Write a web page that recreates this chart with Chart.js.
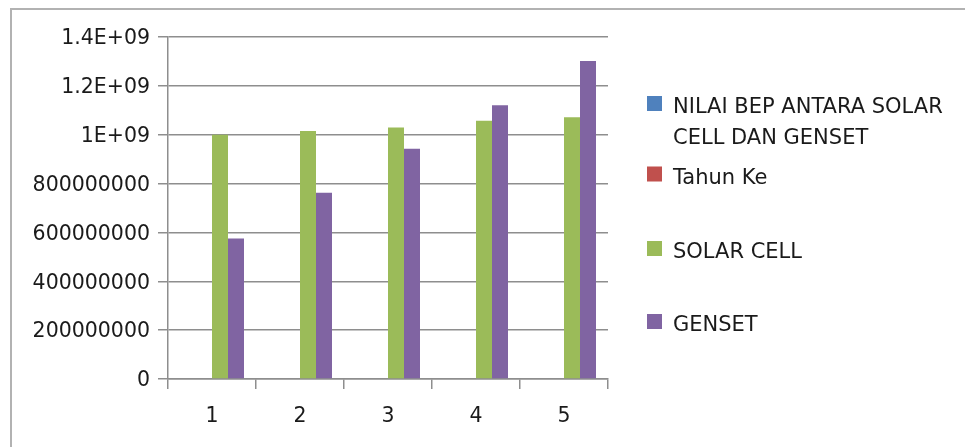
<!DOCTYPE html>
<html lang="id">
<head>
    <meta charset="UTF-8">
    <title>BEP Solar Cell dan Genset</title>
    <style>
        html, body { margin: 0; padding: 0; background: #ffffff; overflow: hidden; }
        .chart-container { position: absolute; left: 0; top: 0; width: 965px; height: 447px; }
        .frame { position: absolute; left: 10px; top: 8px; width: 1200px; height: 600px;
                 border: 2px solid #b2b2b2; pointer-events: none; }
    </style>
</head>
<body>
    <div class="frame"></div>
    <div class="chart-container">
        <canvas id="bepChart"></canvas>
    </div>
    <script src="https://cdn.jsdelivr.net/npm/chart.js"></script>

    <script>
        // data
        const tahun = ['1', '2', '3', '4', '5'];
        const seriesNames = ['NILAI BEP ANTARA SOLAR CELL DAN GENSET', 'Tahun Ke', 'SOLAR CELL', 'GENSET'];
        const nilaiBep = [null, null, null, null, null];
        const tahunKe = [null, null, null, null, null];
        const solarCell = [1000000000, 1015000000, 1030000000, 1057000000, 1072000000];
        const genset = [575000000, 762000000, 943000000, 1121000000, 1302000000];
        const yTicks = [0, 200000000, 400000000, 600000000, 800000000, 1000000000, 1200000000, 1400000000];

        const colors = ['#4F81BD', '#C0504D', '#9BBB59', '#8064A2'];
        const seriesData = [nilaiBep, tahunKe, solarCell, genset];

        // format angka seperti Excel (General)
        function excelFormat(v) {
            v = Math.round(v);
            if (Math.abs(v) >= 1e9) {
                const parts = v.toExponential().split('e');
                const mant = parseFloat(parseFloat(parts[0]).toFixed(2)).toString();
                const exp = parseInt(parts[1], 10);
                return mant + 'E' + (exp >= 0 ? '+' : '-') + String(Math.abs(exp)).padStart(2, '0');
            }
            return String(v);
        }

        // legenda di sebelah kanan, digambar sendiri
        const sideLegend = {
            id: 'sideLegend',
            afterDraw(chart) {
                const ctx = chart.ctx;
                const font = '21px "DejaVu Sans"';
                const textX = 673;
                const boxX = 647;
                const boxSize = 15;
                const maxWidth = 285;
                const lineStep = 31.2;
                const firstLines = [105.5, 176, 250.5, 323.5];
                ctx.save();
                ctx.font = font;
                ctx.fillStyle = '#1a1a1a';
                ctx.textAlign = 'left';
                ctx.textBaseline = 'alphabetic';
                chart.data.datasets.forEach((ds, i) => {
                    // bungkus teks panjang
                    const words = ds.label.split(' ');
                    const lines = [];
                    let cur = '';
                    words.forEach(w => {
                        const test = cur ? cur + ' ' + w : w;
                        if (ctx.measureText(test).width > maxWidth && cur) {
                            lines.push(cur);
                            cur = w;
                        } else {
                            cur = test;
                        }
                    });
                    lines.push(cur);
                    const y0 = firstLines[i];
                    ctx.fillStyle = ds.backgroundColor;
                    ctx.fillRect(boxX, y0 - 2 - boxSize / 2, boxSize, boxSize);
                    ctx.fillStyle = '#1a1a1a';
                    lines.forEach((ln, j) => {
                        ctx.fillText(ln, textX, y0 + j * lineStep + 7.7);
                    });
                });
                ctx.restore();
            }
        };

        const config = {
            type: 'bar',
            data: {
                labels: tahun,
                datasets: seriesNames.map((name, i) => ({
                    label: name,
                    data: seriesData[i],
                    backgroundColor: colors[i],
                    borderWidth: 0,
                    categoryPercentage: 4 / 5.5,
                    barPercentage: 1
                }))
            },
            options: {
                responsive: true,
                maintainAspectRatio: false,
                animation: false,
                layout: {
                    padding: { left: 0, top: 37, right: 357, bottom: 0 }
                },
                plugins: {
                    legend: { display: false },
                    tooltip: { enabled: false }
                },
                scales: {
                    x: {
                        offset: true,
                        grid: {
                            offset: true,
                            drawOnChartArea: false,
                            drawTicks: true,
                            tickLength: 10,
                            color: '#8e8e8e',
                            lineWidth: 1.5
                        },
                        border: { color: '#8e8e8e', width: 1.5 },
                        ticks: {
                            padding: 15,
                            color: '#1a1a1a',
                            font: { family: 'DejaVu Sans', size: 20.5 }
                        },
                        afterFit(scale) { scale.height = 68; }
                    },
                    y: {
                        min: yTicks[0],
                        max: yTicks[yTicks.length - 1],
                        afterBuildTicks(scale) {
                            scale.ticks = yTicks.map(v => ({ value: v }));
                        },
                        grid: {
                            color: '#8e8e8e',
                            lineWidth: 1.5,
                            tickLength: 10
                        },
                        border: { color: '#8e8e8e', width: 1.5 },
                        ticks: {
                            padding: 8,
                            labelOffset: 2,
                            color: '#1a1a1a',
                            font: { family: 'DejaVu Sans', size: 20.5 },
                            callback: value => excelFormat(value)
                        },
                        afterFit(scale) { scale.width = 168; }
                    }
                }
            },
            plugins: [sideLegend]
        };

        const ctx = document.querySelector('#bepChart');
        const bepChart = new Chart(ctx, config);
    </script>
</body>
</html>
